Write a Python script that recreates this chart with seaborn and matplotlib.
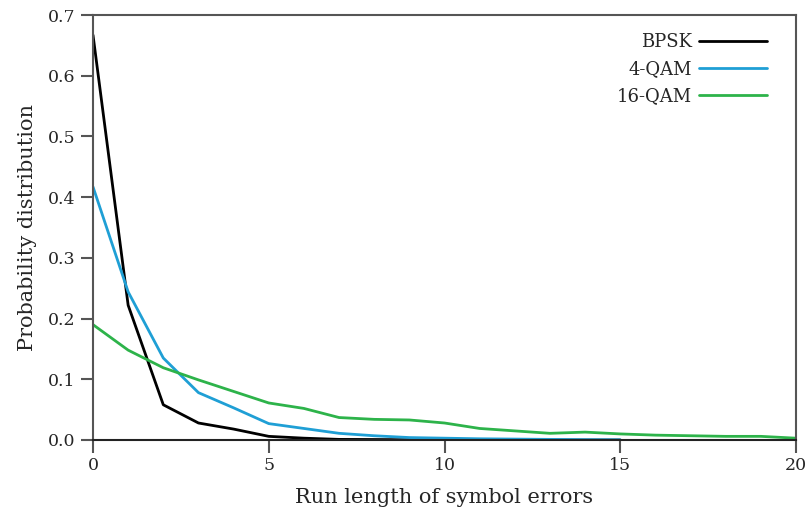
import numpy as np
import pandas as pd
import seaborn as sns
import matplotlib
matplotlib.use("Agg")
import matplotlib.pyplot as plt

# Run-length distributions of symbol errors per modulation scheme
run_short = list(range(0, 16))
run_long = list(range(0, 21))
bpsk = [0.667, 0.222, 0.058, 0.028, 0.018, 0.006, 0.003, 0.001, 0.0008, 0.0005,
        0.0003, 0.0002, 0.0001, 0.0001, 0.0, 0.0]
qam4 = [0.417, 0.244, 0.135, 0.078, 0.053, 0.027, 0.019, 0.011, 0.007, 0.004,
        0.003, 0.002, 0.0015, 0.001, 0.0005, 0.0003]
qam16 = [0.190, 0.148, 0.119, 0.099, 0.080, 0.061, 0.052, 0.037, 0.034, 0.033,
         0.028, 0.019, 0.015, 0.011, 0.013, 0.010, 0.008, 0.007, 0.006, 0.006, 0.003]

series_names = ["BPSK", "4-QAM", "16-QAM"]
series_colors = ["#000000", "#1f9fd5", "#2db34a"]
x_ticks = [0, 5, 10, 15, 20]
y_ticks = [0.0, 0.1, 0.2, 0.3, 0.4, 0.5, 0.6, 0.7]

df = pd.concat([
    pd.DataFrame({"run": run_short, "p": bpsk, "scheme": "BPSK"}),
    pd.DataFrame({"run": run_short, "p": qam4, "scheme": "4-QAM"}),
    pd.DataFrame({"run": run_long, "p": qam16, "scheme": "16-QAM"}),
])

sns.set_style("ticks")
plt.rcParams["font.family"] = ["DejaVu Serif"]

fig = plt.figure(figsize=(8.1, 5.11), dpi=100)
ax = fig.add_axes([93 / 810, 1 - 440 / 511, (796 - 93) / 810, (440 - 15) / 511])

sns.lineplot(data=df, x="run", y="p", hue="scheme", hue_order=series_names,
             palette=dict(zip(series_names, series_colors)), linewidth=2,
             ax=ax, legend=True)

ax.set_xlim(0, 20)
ax.set_ylim(0, 0.7)
ax.set_xticks(x_ticks)
ax.set_yticks(y_ticks)
ax.set_yticklabels([f"{v:.1f}" for v in y_ticks])
ax.set_xlabel("Run length of symbol errors", fontsize=15, labelpad=10)
ax.set_ylabel("Probability distribution", fontsize=15, labelpad=8)
ax.tick_params(axis="both", labelsize=12.5, length=9, width=1.5, color="#555555",
               direction="out")
for s in ax.spines.values():
    s.set_color("#555555")
    s.set_linewidth(1.5)
ax.spines["bottom"].set_color("#222222")

leg = ax.legend(loc="upper right", frameon=False, markerfirst=False, fontsize=13,
                handlelength=3.8, handletextpad=0.4, borderaxespad=0.6,
                labelspacing=0.5, bbox_to_anchor=(0.985, 1.0))

fig.savefig("out.png", dpi=100)
